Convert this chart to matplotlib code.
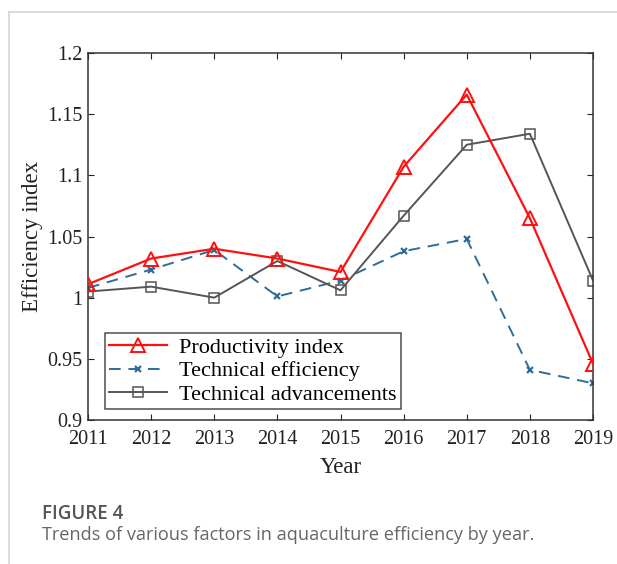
import matplotlib
matplotlib.use('Agg')
import matplotlib.pyplot as plt
from matplotlib.lines import Line2D

# data
years = [2011, 2012, 2013, 2014, 2015, 2016, 2017, 2018, 2019]
productivity = [1.011, 1.032, 1.040, 1.032, 1.021, 1.107, 1.166, 1.065, 0.946]
tech_eff = [1.008, 1.023, 1.039, 1.001, 1.014, 1.038, 1.048, 0.941, 0.930]
tech_adv = [1.005, 1.009, 1.000, 1.030, 1.006, 1.067, 1.125, 1.134, 1.014]
yticks = [0.9, 0.95, 1.0, 1.05, 1.1, 1.15, 1.2]
ytick_labels = ['0.9', '0.95', '1', '1.05', '1.1', '1.15', '1.2']

W, H = 617, 564
fig = plt.figure(figsize=(W / 100, H / 100), dpi=100)

# light frame around the figure panel
fig.add_artist(Line2D([9 / W, 1], [1 - 12 / H, 1 - 12 / H], color='#d4d4d4', lw=1.2))
fig.add_artist(Line2D([9 / W, 9 / W], [0, 1 - 12 / H], color='#d4d4d4', lw=1.2))

ax = fig.add_axes([88 / W, 1 - 420 / H, (593 - 88) / W, (420 - 53) / H])

serif = 'Liberation Serif'

ax.plot(years, productivity, color='#ff1010', lw=1.6, marker='^', ms=10,
        mfc='none', mec='#ff1010', mew=1.4, label='Productivity index', zorder=3)
ax.plot(years, tech_eff, color='#2f6d99', lw=1.4, ls=(0, (6, 4)), marker='x', ms=5,
        mew=1.6, label='Technical efficiency', zorder=2)
ax.plot(years, tech_adv, color='#555555', lw=1.4, marker='s', ms=7,
        mfc='none', mec='#555555', mew=1.1, label='Technical advancements', zorder=2)

ax.set_xlim(2011, 2019)
ax.set_ylim(0.9, 1.2)
ax.set_xticks(years)
ax.set_yticks(yticks)
ax.set_yticklabels(ytick_labels)
ax.tick_params(direction='in', top=True, right=True, length=4, width=0.8,
               labelsize=14.5, colors='#222222')
ax.tick_params(axis='x', pad=7)
ax.tick_params(axis='y', pad=4)
for lbl in ax.get_xticklabels() + ax.get_yticklabels():
    lbl.set_family(serif)
for sp in ax.spines.values():
    sp.set_color('#333333')
    sp.set_linewidth(1.1)

ax.set_xlabel('Year', family=serif, fontsize=16.5, color='#222222', labelpad=6)
ax.set_ylabel('Efficiency index', family=serif, fontsize=16.5, color='#222222', labelpad=3)

leg = ax.legend(loc='lower left', bbox_to_anchor=(0.033, 0.03), prop={'family': serif, 'size': 16},
                frameon=True, fancybox=False, edgecolor='#222222', handlelength=2.6,
                borderpad=0.2, labelspacing=0.12, handletextpad=0.55, borderaxespad=0.0)
leg.get_frame().set_linewidth(1.1)

fig.text(42 / W, 1 - 514 / H, 'FIGURE 4', family='Open Sans', fontweight='semibold',
         fontsize=13.5, color='#555555', va='center', ha='left')
fig.text(42 / W, 1 - 535 / H, 'Trends of various factors in aquaculture efficiency by year.',
         family='Open Sans', fontsize=13.1, color='#666666', va='center', ha='left')

fig.savefig('out.png', dpi=100)
